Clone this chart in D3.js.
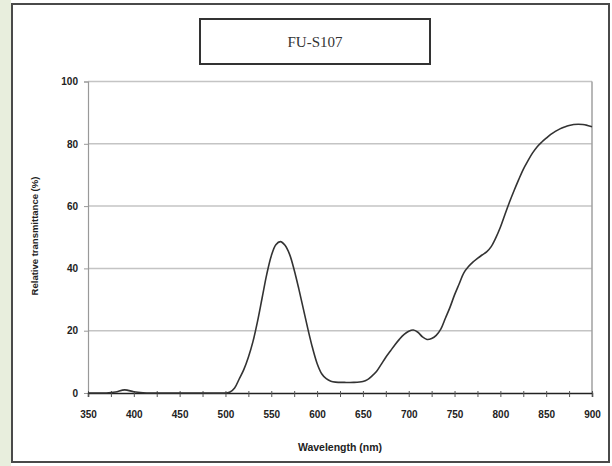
<!DOCTYPE html>
<html>
<head>
<meta charset="utf-8">
<script src="https://cdn.jsdelivr.net/npm/d3@7"></script>
<style>
  html, body { margin: 0; padding: 0; background: #fff; }
  svg { display: block; }
  .tick text { font-family: Arial, "Liberation Sans", sans-serif; font-weight: bold; font-size: 10px; fill: #222; }
</style>
</head>
<body>
<div id="chart"></div>
<script>
  // transmittance curve
  var wavelengths = [350, 360, 370, 380, 390, 400, 410, 420, 440, 460, 480, 500,
    505, 510, 515, 520, 525, 530, 535, 540, 545, 550, 555, 560, 565, 570, 575, 580,
    585, 590, 595, 600, 605, 610, 615, 620, 630, 640, 650, 655, 660, 665, 670, 675,
    680, 685, 690, 695, 700, 705, 710, 715, 720, 725, 730, 735, 740, 745, 750, 755,
    760, 765, 770, 775, 780, 785, 790, 795, 800, 805, 810, 815, 820, 825, 830, 835,
    840, 845, 850, 855, 860, 865, 870, 875, 880, 885, 890, 895, 900];
  var transmittance = [0, 0, 0, 0.3, 1.0, 0.4, 0.1, 0, 0, 0, 0, 0,
    0.3, 1.6, 4.5, 7.5, 11.5, 16.5, 23, 30.5, 38, 44, 47.6, 48.6, 47.4, 44.5, 39.5, 33.5,
    27, 20.5, 14.5, 9.5, 6.2, 4.6, 3.8, 3.5, 3.4, 3.4, 3.7, 4.3, 5.5, 7, 9.2, 11.5,
    13.5, 15.5, 17.3, 18.8, 19.8, 20.2, 19.5, 18, 17.2, 17.5, 18.5, 20.5, 24, 27.5, 31.5, 35,
    38.5, 40.5, 42, 43.2, 44.3, 45.3, 47, 49.8, 53.2, 57.3, 61.3, 65, 68.5, 71.8, 74.5, 77,
    79, 80.5, 81.8, 83, 84, 84.8, 85.4, 85.9, 86.2, 86.3, 86.2, 85.9, 85.5];
  var xTicks = [350, 375, 400, 425, 450, 475, 500, 525, 550, 575, 600, 625, 650, 675,
    700, 725, 750, 775, 800, 825, 850, 875, 900];
  var xLabels = [350, 400, 450, 500, 550, 600, 650, 700, 750, 800, 850, 900];
  var yTicks = [0, 20, 40, 60, 80, 100];
  var title = 'FU-S107';

  var width = 612;
  var height = 466;
  var plot = { left: 88, right: 592, top: 81.5, bottom: 393 };

  var svg = d3.select('#chart').append('svg')
    .attr('width', width)
    .attr('height', height);

  // page margin + frame
  svg.append('rect')
    .attr('x', 0).attr('y', 0)
    .attr('width', width).attr('height', height)
    .attr('fill', '#fff');
  svg.append('rect')
    .attr('x', 0).attr('y', 0)
    .attr('width', 11).attr('height', height)
    .attr('fill', '#e8eedd');
  svg.append('rect')
    .attr('x', 12).attr('y', 4)
    .attr('width', 597).attr('height', 458)
    .attr('fill', '#fff')
    .attr('stroke', '#4a4a4a')
    .attr('stroke-width', 2);

  var x = d3.scaleLinear()
    .domain([350, 900])
    .range([plot.left, plot.right]);
  var y = d3.scaleLinear()
    .domain([0, 100])
    .range([plot.bottom, plot.top]);

  // gridlines
  svg.append('g')
    .selectAll('line')
    .data(yTicks.filter(function (d) { return d > 0; }))
    .enter()
    .append('line')
    .attr('x1', plot.left).attr('x2', plot.right)
    .attr('y1', function (d) { return y(d); })
    .attr('y2', function (d) { return y(d); })
    .attr('stroke', '#c4c4c4')
    .attr('stroke-width', 1.5);

  // right border of plot area
  svg.append('line')
    .attr('x1', plot.right).attr('x2', plot.right)
    .attr('y1', plot.top).attr('y2', plot.bottom)
    .attr('stroke', '#a0a0a0')
    .attr('stroke-width', 1.5);

  // y axis
  var yAxis = svg.append('g')
    .attr('transform', 'translate(' + plot.left + ',0)')
    .call(d3.axisLeft(y).tickValues(yTicks).tickSize(4).tickPadding(6));
  yAxis.select('.domain').attr('stroke', '#999').attr('stroke-width', 1.2);
  yAxis.selectAll('.tick line').attr('stroke', '#999');

  // x axis: ticks every 25, labels every 50
  var xAxis = svg.append('g')
    .attr('transform', 'translate(0,' + plot.bottom + ')')
    .call(d3.axisBottom(x).tickValues(xTicks).tickSize(4).tickPadding(14)
      .tickFormat(function (d) { return xLabels.indexOf(d) >= 0 ? d : ''; }));
  xAxis.select('.domain').attr('stroke', '#222').attr('stroke-width', 1.5);
  xAxis.selectAll('.tick line').attr('stroke', '#555').attr('y1', -2);

  // curve
  var series = wavelengths.map(function (w, i) { return { w: w, v: transmittance[i] }; });
  var line = d3.line()
    .x(function (d) { return x(d.w); })
    .y(function (d) { return y(d.v); })
    .curve(d3.curveCatmullRom.alpha(0.5));
  svg.append('path')
    .datum(series)
    .attr('d', line)
    .attr('fill', 'none')
    .attr('stroke', '#333')
    .attr('stroke-width', 1.6);

  // title box
  svg.append('rect')
    .attr('x', 200).attr('y', 19)
    .attr('width', 230).attr('height', 45)
    .attr('fill', '#fff')
    .attr('stroke', '#333')
    .attr('stroke-width', 2);
  svg.append('text')
    .attr('x', 315).attr('y', 47)
    .attr('text-anchor', 'middle')
    .style('font-family', '"Liberation Serif", "DejaVu Serif", serif')
    .style('font-size', '15px')
    .style('fill', '#333')
    .text(title);

  // axis titles
  svg.append('text')
    .attr('x', 340).attr('y', 451)
    .attr('text-anchor', 'middle')
    .style('font-family', 'Arial, "Liberation Sans", sans-serif')
    .style('font-weight', 'bold')
    .style('font-size', '10.5px')
    .style('fill', '#222')
    .text('Wavelength (nm)');
  svg.append('text')
    .attr('transform', 'translate(38,' + 236 + ') rotate(-90)')
    .attr('text-anchor', 'middle')
    .style('font-family', 'Arial, "Liberation Sans", sans-serif')
    .style('font-weight', 'bold')
    .style('font-size', '9.5px')
    .style('fill', '#222')
    .text('Relative transmittance (%)');
</script>
</body>
</html>
